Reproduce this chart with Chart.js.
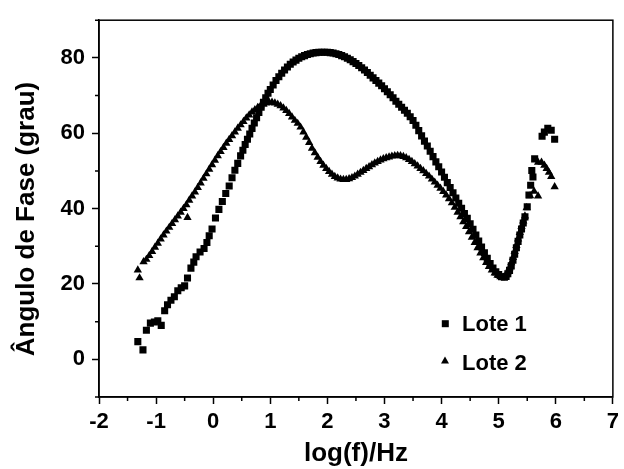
<!DOCTYPE html>
<html>
<head>
<meta charset="utf-8">
<script src="https://cdn.jsdelivr.net/npm/chart.js@4.4.1/dist/chart.umd.min.js"></script>
<style>
  html, body { margin: 0; padding: 0; background: #fff; }
</style>
</head>
<body>
<canvas id="myChart" width="624" height="469"></canvas>
<script>
var xTickLabels = [-2, -1, 0, 1, 2, 3, 4, 5, 6, 7];
var yTickLabels = [0, 20, 40, 60, 80];
var seriesNames = ["Lote 1", "Lote 2"];

// Lote 1 (squares)
var lote1X = [-1.32, -1.23, -1.17, -1.10, -1.03, -0.97, -0.91, -0.85, -0.80, -0.74, -0.68, -0.62, -0.56, -0.50,
  -0.45, -0.39, -0.34, -0.30, -0.23, -0.16, -0.11, -0.07, -0.02, 0.04, 0.10, 0.16, 0.22, 0.28, 0.33, 0.38,
  0.43, 0.48, 0.52, 0.56, 0.60, 0.64, 0.68, 0.72, 0.76, 0.80, 0.84, 0.88, 0.92, 0.96, 1.00, 1.05, 1.10,
  1.15, 1.20, 1.25, 1.30, 1.35, 1.40, 1.45, 1.50, 1.55, 1.60, 1.65, 1.70, 1.75, 1.80, 1.85, 1.90, 1.95,
  2.00, 2.05, 2.10, 2.15, 2.20, 2.25, 2.30, 2.35, 2.40, 2.45, 2.50, 2.55, 2.60, 2.65, 2.70, 2.75, 2.80,
  2.85, 2.90, 2.95, 3.00, 3.05, 3.10, 3.15, 3.20, 3.25, 3.30, 3.35, 3.40, 3.45, 3.50, 3.55, 3.60, 3.65,
  3.70, 3.75, 3.80, 3.85, 3.90, 3.95, 4.00, 4.05, 4.10, 4.15, 4.20, 4.25, 4.30, 4.35, 4.40, 4.45, 4.50,
  4.55, 4.60, 4.65, 4.70, 4.75, 4.80, 4.85, 4.90, 4.95, 5.00, 5.05, 5.10, 5.13, 5.16, 5.19, 5.22, 5.25,
  5.28, 5.31, 5.34, 5.37, 5.40, 5.43, 5.46, 5.50, 5.53, 5.56, 5.58, 5.60, 5.63, 5.76, 5.80, 5.86, 5.92, 5.98];
var lote1Y = [4.7, 2.5, 7.7, 9.6, 9.9, 10.2, 9.0, 12.9, 14.5, 15.7, 16.6, 18.2, 19.0, 19.5,
  21.6, 24.2, 25.8, 27.2, 28.5, 29.4, 31.0, 32.8, 34.6, 37.5, 39.8, 41.9, 44.0, 46.0, 48.2, 50.2,
  52.0, 54.0, 55.5, 57.0, 58.4, 59.8, 61.3, 62.7, 64.1, 65.5, 66.9, 68.2, 69.4, 70.6, 71.6, 72.8, 74.0,
  75.0, 75.9, 76.8, 77.6, 78.3, 78.9, 79.4, 79.9, 80.3, 80.6, 80.9, 81.1, 81.3, 81.4, 81.5, 81.5, 81.5,
  81.5, 81.4, 81.3, 81.1, 80.9, 80.6, 80.3, 79.9, 79.5, 79.0, 78.5, 78.0, 77.4, 76.8, 76.1, 75.4, 74.7,
  74.0, 73.3, 72.6, 71.8, 71.0, 70.2, 69.4, 68.5, 67.7, 66.9, 66.1, 65.3, 64.4, 63.4, 62.1, 60.7, 59.3,
  57.9, 56.6, 55.2, 53.8, 52.4, 51.1, 49.7, 48.3, 46.9, 45.6, 44.2, 42.8, 41.4, 40.1, 38.7, 37.4, 36.0,
  34.5, 33.0, 31.4, 29.8, 28.3, 26.8, 25.4, 24.2, 23.2, 22.5, 21.9, 21.8, 22.0, 22.7, 23.6, 24.8, 26.3,
  27.9, 29.6, 31.3, 33.0, 34.6, 36.2, 37.8, 40.5, 43.6, 46.2, 50.1, 48.4, 53.2, 59.2, 60.3, 61.3, 60.8, 58.4];

// Lote 2 (triangles)
var lote2X = [-1.32, -1.29, -1.22, -1.17, -1.12, -1.07, -1.02, -0.97, -0.92, -0.87, -0.82, -0.77, -0.72,
  -0.67, -0.62, -0.57, -0.52, -0.47, -0.45, -0.42, -0.37, -0.32, -0.27, -0.22, -0.17, -0.12, -0.07, -0.02,
  0.03, 0.08, 0.13, 0.18, 0.23, 0.28, 0.33, 0.38, 0.43, 0.48, 0.53, 0.58, 0.63, 0.68, 0.73, 0.78, 0.83,
  0.88, 0.93, 0.98, 1.03, 1.08, 1.13, 1.18, 1.23, 1.28, 1.33, 1.38, 1.43, 1.48, 1.53, 1.58, 1.63, 1.68,
  1.73, 1.78, 1.83, 1.88, 1.93, 1.98, 2.03, 2.08, 2.13, 2.18, 2.23, 2.28, 2.33, 2.38, 2.43, 2.48, 2.53,
  2.58, 2.63, 2.68, 2.73, 2.78, 2.83, 2.88, 2.93, 2.98, 3.03, 3.08, 3.13, 3.18, 3.23, 3.28, 3.33, 3.38,
  3.43, 3.48, 3.53, 3.58, 3.63, 3.68, 3.73, 3.78, 3.83, 3.88, 3.93, 3.98, 4.03, 4.08, 4.13, 4.18, 4.23,
  4.28, 4.33, 4.38, 4.43, 4.48, 4.53, 4.58, 4.63, 4.68, 4.73, 4.78, 4.83, 4.88, 4.93, 4.98, 5.03, 5.08,
  5.13, 5.16, 5.19, 5.22, 5.25, 5.28, 5.31, 5.34, 5.37, 5.40, 5.43, 5.46, 5.49, 5.55, 5.62, 5.69, 5.69,
  5.75, 5.80, 5.84, 5.88, 5.92, 5.98];
var lote2Y = [23.7, 21.6, 25.9, 26.5, 27.5, 28.6, 29.7, 30.8, 31.9, 33.0, 34.0, 35.0, 36.0,
  37.0, 38.0, 39.0, 40.0, 41.0, 37.6, 42.2, 43.3, 44.4, 45.6, 46.8, 48.0, 49.2, 50.4, 51.6,
  52.8, 54.0, 55.1, 56.2, 57.3, 58.3, 59.3, 60.3, 61.3, 62.2, 63.1, 64.0, 64.8, 65.6, 66.2, 66.8, 67.3,
  67.7, 68.0, 68.2, 68.2, 68.0, 67.7, 67.3, 66.7, 66.0, 65.2, 64.3, 63.4, 62.6, 61.6, 60.3, 58.9, 57.5,
  56.0, 54.8, 53.6, 52.5, 51.5, 50.6, 49.8, 49.1, 48.5, 48.1, 47.8, 47.7, 47.7, 47.9, 48.2, 48.6, 49.1,
  49.6, 50.1, 50.6, 51.1, 51.6, 52.1, 52.5, 52.9, 53.2, 53.5, 53.7, 53.9, 54.0, 54.1, 54.0, 53.8, 53.5,
  53.0, 52.5, 51.9, 51.3, 50.6, 50.0, 49.3, 48.6, 47.8, 47.0, 46.2, 45.4, 44.5, 43.6, 42.6, 41.5, 40.3,
  39.0, 37.8, 36.5, 35.2, 33.8, 32.4, 31.0, 29.6, 28.2, 26.9, 25.7, 24.6, 23.7, 22.9, 22.3, 21.9, 21.8,
  22.4, 23.2, 24.3, 25.6, 27.0, 28.6, 30.2, 31.9, 33.6, 35.2, 36.7, 38.0, 40.2, 43.4, 44.6, 43.3, 52.3,
  52.3, 51.5, 50.6, 49.6, 48.5, 45.8];

function toPoints(xs, ys) {
  return xs.map(function (x, i) { return { x: x, y: ys[i] }; });
}

var fontFamily = 'Arial, "Liberation Sans", sans-serif';
Chart.defaults.font.family = fontFamily;
Chart.defaults.font.weight = "bold";
Chart.defaults.color = "#000";

// frame, minor ticks, y title and legend drawn on top
var extras = {
  id: "extras",
  afterDraw: function (chart) {
    var ctx = chart.ctx;
    var a = chart.chartArea;
    var xs = chart.scales.x, ys = chart.scales.y;
    ctx.save();
    ctx.strokeStyle = "#000";
    ctx.lineWidth = 1.5;
    ctx.strokeRect(a.left, a.top, a.right - a.left, a.bottom - a.top);

    ctx.beginPath();
    xs.ticks.forEach(function (t) {
      if (xTickLabels.indexOf(t.value) < 0) {
        var px = xs.getPixelForValue(t.value);
        ctx.moveTo(px, a.bottom);
        ctx.lineTo(px, a.bottom + 4);
      }
    });
    ys.ticks.forEach(function (t) {
      if (yTickLabels.indexOf(t.value) < 0) {
        var py = ys.getPixelForValue(t.value);
        ctx.moveTo(a.left, py);
        ctx.lineTo(a.left - 4, py);
      }
    });
    ctx.stroke();

    // y axis title
    ctx.fillStyle = "#000";
    ctx.font = "bold 26px " + fontFamily;
    ctx.textAlign = "center";
    ctx.textBaseline = "middle";
    ctx.translate(27, 219);
    ctx.rotate(-Math.PI / 2);
    ctx.fillText("Ângulo de Fase (grau)", 0, 0);
    ctx.restore();

    // legend
    ctx.save();
    ctx.fillStyle = "#000";
    ctx.font = "bold 22px " + fontFamily;
    ctx.textAlign = "left";
    ctx.textBaseline = "alphabetic";
    ctx.fillRect(441.8, 320.2, 7, 7);
    ctx.fillText(chart.data.datasets[0].label, 462, 331);
    ctx.beginPath();
    ctx.moveTo(445, 356.5);
    ctx.lineTo(449, 363.5);
    ctx.lineTo(441, 363.5);
    ctx.closePath();
    ctx.fill();
    ctx.fillText(chart.data.datasets[1].label, 462, 369.5);
    ctx.restore();
  }
};

new Chart("myChart", {
  type: "scatter",
  data: {
    datasets: [{
      label: seriesNames[0],
      data: toPoints(lote1X, lote1Y),
      pointStyle: "rect",
      pointRadius: 5,
      pointBorderWidth: 0,
      backgroundColor: "#000",
      borderColor: "#000"
    }, {
      label: seriesNames[1],
      data: toPoints(lote2X, lote2Y),
      pointStyle: "triangle",
      pointRadius: 4.8,
      pointBorderWidth: 0,
      backgroundColor: "#000",
      borderColor: "#000"
    }]
  },
  options: {
    responsive: false,
    animation: false,
    layout: { padding: { top: 12, right: 7, left: 0, bottom: 0 } },
    plugins: {
      legend: { display: false },
      tooltip: { enabled: false }
    },
    scales: {
      x: {
        type: "linear",
        min: -2,
        max: 7,
        afterFit: function (scale) { scale.height = 72; },
        border: { display: true, color: "#000", width: 1.5 },
        grid: {
          drawOnChartArea: false,
          tickLength: 7,
          tickWidth: 1.5,
          tickColor: function (c) {
            return c.tick && xTickLabels.indexOf(c.tick.value) >= 0 ? "#000" : "rgba(0,0,0,0)";
          }
        },
        ticks: {
          stepSize: 0.5,
          autoSkip: false,
          maxRotation: 0,
          padding: 5,
          font: { size: 22, weight: "bold" },
          callback: function (v) { return xTickLabels.indexOf(v) >= 0 ? String(v) : ""; }
        },
        title: {
          display: true,
          text: "log(f)/Hz",
          font: { size: 26, weight: "bold" },
          padding: { top: 0, bottom: 0 }
        }
      },
      y: {
        type: "linear",
        min: -10,
        max: 90,
        afterFit: function (scale) { scale.width = 99; },
        border: { display: true, color: "#000", width: 1.5 },
        grid: {
          drawOnChartArea: false,
          tickLength: 7,
          tickWidth: 1.5,
          tickColor: function (c) {
            return c.tick && yTickLabels.indexOf(c.tick.value) >= 0 ? "#000" : "rgba(0,0,0,0)";
          }
        },
        ticks: {
          stepSize: 10,
          autoSkip: false,
          padding: 7,
          font: { size: 22, weight: "bold" },
          callback: function (v) { return yTickLabels.indexOf(v) >= 0 ? String(v) : ""; }
        }
      }
    }
  },
  plugins: [extras]
});
</script>
</body>
</html>
